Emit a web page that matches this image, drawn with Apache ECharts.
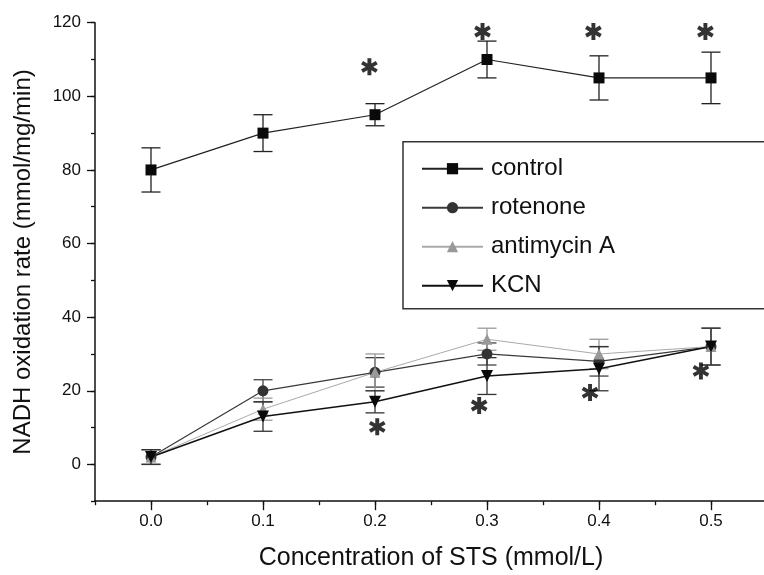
<!DOCTYPE html>
<html>
<head>
<meta charset="utf-8">
<script src="https://cdn.jsdelivr.net/npm/echarts@6/dist/echarts.min.js"></script>
<style>
html,body{margin:0;padding:0;background:#fff;}
#chart{width:764px;height:575px;}
</style>
</head>
<body>
<div id="chart"></div>
<script>
// ---- data ----
const concentrations = [0.0, 0.1, 0.2, 0.3, 0.4, 0.5];
const seriesNames = ['control', 'rotenone', 'antimycin A', 'KCN'];
const controlMean   = [80, 90, 95, 110, 105, 105];
const controlErr    = [6, 5, 3, 5, 6, 7];
const rotenoneMean  = [2, 20, 25, 30, 28, 32];
const rotenoneErr   = [2, 3, 4, 3, 4, 5];
const antimycinMean = [2, 15, 25, 34, 30, 32];
const antimycinErr  = [2, 3, 5, 3, 4, 5];
const kcnMean       = [2, 13, 17, 24, 26, 32];
const kcnErr        = [2, 4, 3, 5, 6, 5];
// significance asterisks (x, y in data units)
const sigUpperX = [0.195, 0.296, 0.395, 0.495];
const sigUpperY = [108, 117.6, 117.6, 117.6];
const sigLowerX = [0.202, 0.293, 0.392, 0.491];
const sigLowerY = [10.2, 16, 19.5, 25.4];
const yTickLabels = [0, 20, 40, 60, 80, 100, 120];
const xTickLabels = [0.0, 0.1, 0.2, 0.3, 0.4, 0.5];

const FONT = "'Liberation Sans', Arial, Helvetica, sans-serif";
const ASTERISK = 'path://M-2.3,-10L2.3,-10L2.3,10L-2.3,10Z M7.51,-6.99L9.81,-3.01L-7.51,6.99L-9.81,3.01Z M-9.81,-3.01L-7.51,-6.99L9.81,3.01L7.51,6.99Z';
const DOWN_TRI = 'path://M0,0L12,0L6,10Z';

const styles = {
  'control':     {color:'#0a0a0a', line:'#222', width:1.2, symbol:'rect', size:11, err:'#222'},
  'rotenone':    {color:'#333', line:'#3a3a3a', width:1.3, symbol:'circle', size:11, err:'#444'},
  'antimycin A': {color:'#999', line:'#aaa', width:1, symbol:'triangle', size:11, err:'#999'},
  'KCN':         {color:'#0a0a0a', line:'#111', width:1.5, symbol:DOWN_TRI, size:12, err:'#333'}
};
const means = {'control':controlMean,'rotenone':rotenoneMean,'antimycin A':antimycinMean,'KCN':kcnMean};
const errs  = {'control':controlErr,'rotenone':rotenoneErr,'antimycin A':antimycinErr,'KCN':kcnErr};

function errRenderer(color){
  return function(params, api){
    const x = api.value(0), lo = api.value(1), hi = api.value(2);
    const a = api.coord([x, lo]), b = api.coord([x, hi]);
    const hw = 9.5;
    const st = {stroke: color, lineWidth: 1.3, fill: null};
    return {type:'group', children:[
      {type:'line', shape:{x1:a[0], y1:a[1], x2:b[0], y2:b[1]}, style:st},
      {type:'line', shape:{x1:a[0]-hw, y1:a[1], x2:a[0]+hw, y2:a[1]}, style:st},
      {type:'line', shape:{x1:b[0]-hw, y1:b[1], x2:b[0]+hw, y2:b[1]}, style:st}
    ]};
  };
}

const series = [];
seriesNames.forEach(function(name){
  const s = styles[name];
  series.push({
    name: name + ' err', type:'custom', xAxisIndex:0, yAxisIndex:0, z:1,
    renderItem: errRenderer(s.err),
    data: concentrations.map(function(c,i){ return [c, means[name][i]-errs[name][i], means[name][i]+errs[name][i]]; }),
    silent:true
  });
});
seriesNames.forEach(function(name){
  const s = styles[name];
  series.push({
    name: name, type:'line', xAxisIndex:0, yAxisIndex:0, z:3,
    symbol: s.symbol, symbolSize: s.size, showAllSymbol:true,
    itemStyle:{color:s.color, opacity:1},
    lineStyle:{color:s.line, width:s.width},
    emphasis:{disabled:true},
    data: concentrations.map(function(c,i){ return [c, means[name][i]]; })
  });
});
series.push({
  name:'sig', type:'scatter', xAxisIndex:0, yAxisIndex:0, z:4,
  symbol: ASTERISK, symbolSize: 17, symbolKeepAspect:true,
  itemStyle:{color:'#000'},
  emphasis:{disabled:true},
  data: sigUpperX.map(function(x,i){return [x, sigUpperY[i]];}).concat(sigLowerX.map(function(x,i){return [x, sigLowerY[i]];}))
});

const chart = echarts.init(document.getElementById('chart'), null, {renderer:'canvas'});
chart.setOption({
  animation:false,
  backgroundColor:'#fff',
  grid:[
    {left:95, right:-3, top:22.7, bottom:73.8, outerBoundsMode:'none', containLabel:false},
    {left:95, right:-3, top:22.7, bottom:110.6, outerBoundsMode:'none', containLabel:false},
    {left:151, right:53, top:22.7, bottom:73.8, outerBoundsMode:'none', containLabel:false}
  ],
  legend:{
    data: seriesNames,
    orient:'vertical', left:403, top:141.7,
    padding:[12,220,8,18],
    itemGap:9, itemWidth:61, itemHeight:14,
    borderColor:'#333', borderWidth:1.5,
    textStyle:{fontFamily:FONT, fontSize:24, color:'#111', lineHeight:30, padding:[0,0,0,3]},
    selectedMode:false
  },
  xAxis:[
    {gridIndex:0, type:'value', min:-0.05, max:0.55, interval:0.05,
     axisLine:{show:true, onZero:false, lineStyle:{color:'#111', width:1.6}},
     axisTick:{show:true, length:4, lineStyle:{color:'#111', width:1.3}},
     axisLabel:{show:false}, splitLine:{show:false},
     name:'Concentration of STS (mmol/L)', nameLocation:'middle', nameGap:44,
     nameTextStyle:{fontFamily:FONT, fontSize:25, color:'#111'}},
    {gridIndex:1, type:'value', min:-0.05, max:0.55, show:false},
    {gridIndex:2, type:'value', min:0, max:0.5, interval:0.1,
     axisLine:{show:false, onZero:false},
     axisTick:{show:true, length:9, lineStyle:{color:'#111', width:1.3}},
     axisLabel:{show:true, margin:12, fontFamily:FONT, fontSize:17, color:'#111',
       formatter:function(v){ return v.toFixed(1); }},
     splitLine:{show:false}}
  ],
  yAxis:[
    {gridIndex:0, type:'value', min:-10, max:120, interval:10,
     axisLine:{show:true, onZero:false, lineStyle:{color:'#111', width:1.5}},
     axisTick:{show:true, length:4, lineStyle:{color:'#111', width:1.3}},
     axisLabel:{show:false}, splitLine:{show:false},
     name:'NADH oxidation rate (mmol/mg/min)', nameLocation:'middle', nameGap:60, nameRotate:90,
     nameTextStyle:{fontFamily:FONT, fontSize:24, color:'#111'}},
    {gridIndex:1, type:'value', min:0, max:120, interval:20,
     axisLine:{show:false, onZero:false},
     axisTick:{show:true, length:8, lineStyle:{color:'#111', width:1.3}},
     axisLabel:{show:true, margin:14, fontFamily:FONT, fontSize:17, color:'#111',
       formatter:function(v){ return yTickLabels.indexOf(v) >= 0 ? String(v) : ''; }},
     splitLine:{show:false}},
    {gridIndex:2, type:'value', min:-10, max:120, show:false}
  ],
  series: series
});
</script>
</body>
</html>
